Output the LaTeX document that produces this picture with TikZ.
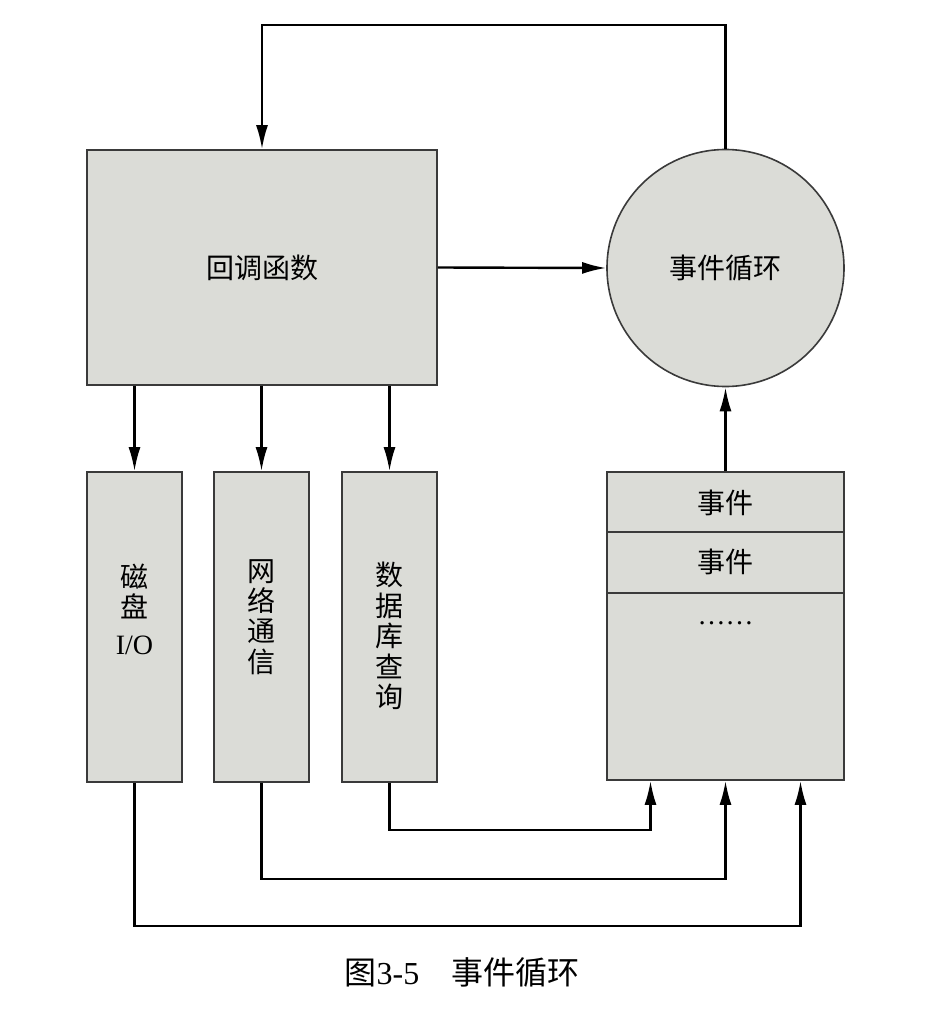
\documentclass[tikz,border=0pt]{standalone}
\usepackage{fontspec}
\setmainfont{Liberation Serif}
\newfontfamily\cjk{Noto Sans CJK SC}
\usetikzlibrary{arrows.meta}
\definecolor{boxfill}{HTML}{DBDCD7}
\definecolor{boxline}{HTML}{3A3A3A}
\tikzset{
  box/.style={draw=boxline,line width=0.8pt,fill=boxfill,inner sep=0pt},
  lbl/.style={font=\cjk\fontsize{14}{15.2}\selectfont,align=center,inner sep=0pt},
  conn/.style={line width=1.2pt,-{Latex[length=12pt,width=6pt]}},
}
\begin{document}
\begin{tikzpicture}[x=0.5pt,y=-0.5pt]
    \useasboundingbox[fill=white] (0,0) rectangle (928,1012);

    % Callback e ciclo degli eventi
    \node[box,lbl,minimum width=175pt,minimum height=117.5pt] (cb) at (262,267.5) {回调函数};
    \node[box,lbl,circle,minimum size=118.5pt] (loop) at (725.5,268) {事件循环};

    % I tre compiti
    \node[box,minimum width=47.5pt,minimum height=155pt] (io) at (134.5,627) {};
    \node[box,minimum width=47.5pt,minimum height=155pt] (net) at (261.5,627) {};
    \node[box,minimum width=47.5pt,minimum height=155pt] (db) at (389.5,627) {};
    \node[lbl] (iot) at (134.5,609) {磁\\盘\\[3pt]\rmfamily I/O};
    \node[lbl] (nett) at (261.5,617) {网\\络\\通\\信};
    \node[lbl] (dbt) at (389.5,636) {数\\据\\库\\查\\询};

    % Coda degli eventi
    \node[box,minimum width=118.5pt,minimum height=154pt] (queue) at (725.5,626) {};
    \draw[boxline,line width=0.8pt] (queue.west |- 0,532) -- (queue.east |- 0,532);
    \draw[boxline,line width=0.8pt] (queue.west |- 0,593) -- (queue.east |- 0,593);
    \node[lbl] (ev1) at (725.5,503) {事件};
    \node[lbl] (ev2) at (725.5,562) {事件};
    \node[lbl,font=\fontsize{14}{15}\selectfont] (evn) at (725.5,623) {……};

    % Frecce principali
    \coordinate (top) at (262,25);
    \draw[conn] (loop.north) |- (top) -- (cb.north);
    \draw[conn] (cb.east) -- (loop.west);
    \draw[conn] (queue.north) -- (loop.south);
    \draw[conn] (cb.south -| io.north) -- (io.north);
    \draw[conn] (cb.south -| net.north) -- (net.north);
    \draw[conn] (cb.south -| db.north) -- (db.north);

    % Ritorno verso la coda
    \draw[conn] (db.south) -- ++(0,47) -| ([xshift=-37.5pt]queue.south);
    \draw[conn] (net.south) -- ++(0,96) -| (queue.south);
    \draw[conn] (io.south) -- ++(0,143) -| ([xshift=37.5pt]queue.south);

    \node[font=\fontsize{16}{18}\selectfont] (cap) at (462,972) {{\cjk 图}3-5\hspace{1em}{\cjk 事件循环}};
\end{tikzpicture}
\end{document}
